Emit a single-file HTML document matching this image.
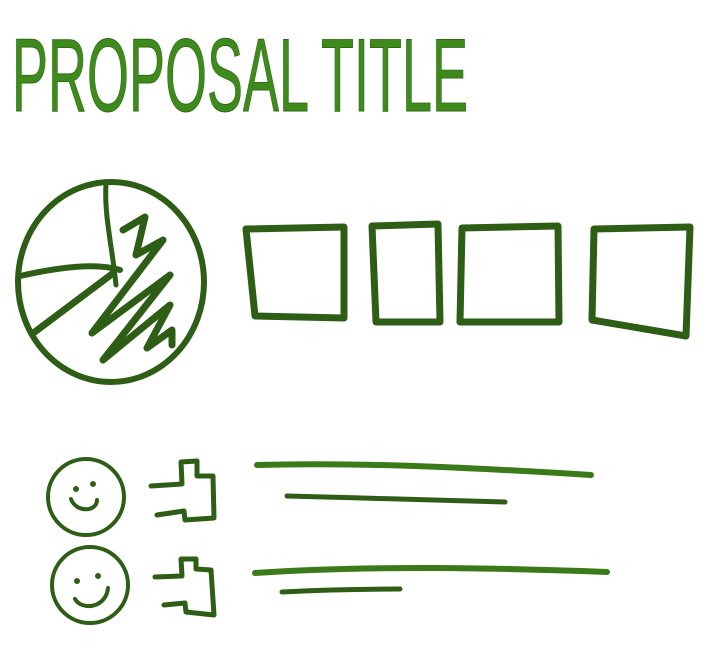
<!DOCTYPE html>
<html><head><style>html,body{margin:0;padding:0;background:#fff;width:720px;height:659px;overflow:hidden}</style></head>
<body>
<svg width="720" height="659" viewBox="0 0 720 659" xmlns="http://www.w3.org/2000/svg">
<g fill="none" stroke="#2e5e16" stroke-linecap="round" stroke-linejoin="round">
<text x="12" y="111" font-family="Liberation Sans, sans-serif" font-size="112" textLength="456" lengthAdjust="spacingAndGlyphs" fill="#3f8a1c" stroke="#2e6a14" stroke-width="1" transform="translate(0,8) scale(1,0.93)">PROPOSAL TITLE</text>
<ellipse cx="111" cy="282" rx="93" ry="100" stroke-width="6"/>
<path d="M106 184 C104 215 112 245 116 285" stroke-width="5"/>
<path d="M20 276 C55 268 95 262 120 270" stroke-width="6"/>
<path d="M32 334 L112 274" stroke-width="7"/>
<path d="M123 230 L145 217 L136 255 L163 240 L92 333 L170 275 L103 360 L170 305 L147 348 L172 330 L172 345" stroke-width="7"/>
<path d="M246 229 L344 227 L344 318 L255 316 Z" stroke-width="7"/>
<path d="M372 226 L438 224 L440 322 L376 322 Z" stroke-width="7"/>
<path d="M462 228 L558 226 L559 322 L460 322 Z" stroke-width="7"/>
<path d="M594 229 L690 227 L686 336 L592 320 Z" stroke-width="7"/>
<ellipse cx="86" cy="497" rx="38" ry="38" stroke-width="4"/>
<circle cx="76" cy="489" r="1.5" stroke-width="3"/><circle cx="93" cy="484" r="1.5" stroke-width="3"/>
<path d="M71 499 C76 513 97 512 97 500" stroke-width="4"/>
<ellipse cx="90" cy="585" rx="38" ry="38" stroke-width="4"/>
<circle cx="77" cy="581" r="1.5" stroke-width="3"/><circle cx="98" cy="576" r="1.5" stroke-width="3"/>
<path d="M75 599 C82 611 106 608 108 588" stroke-width="4"/>
<path d="M151 486 L182 484 L181 462 L197 461 L197 476 L213 476 L214 518 L185 520 L184 511 L157 515" stroke-width="5"/>
<path d="M155 577 L182 576 L181 559 L196 559 L196 569 L211 570 L214 615 L186 612 L185 603 L164 605" stroke-width="5"/>
<path d="M257 465 C360 462 480 468 591 475" stroke="#3a7a18" stroke-width="6"/>
<path d="M287 496 C360 498 440 500 505 502" stroke-width="5"/>
<path d="M255 573 C370 565 500 568 607 572" stroke="#3a7a18" stroke-width="6"/>
<path d="M282 592 C320 590 360 589 400 589" stroke-width="5"/>
</g>
</svg>
</body></html>
